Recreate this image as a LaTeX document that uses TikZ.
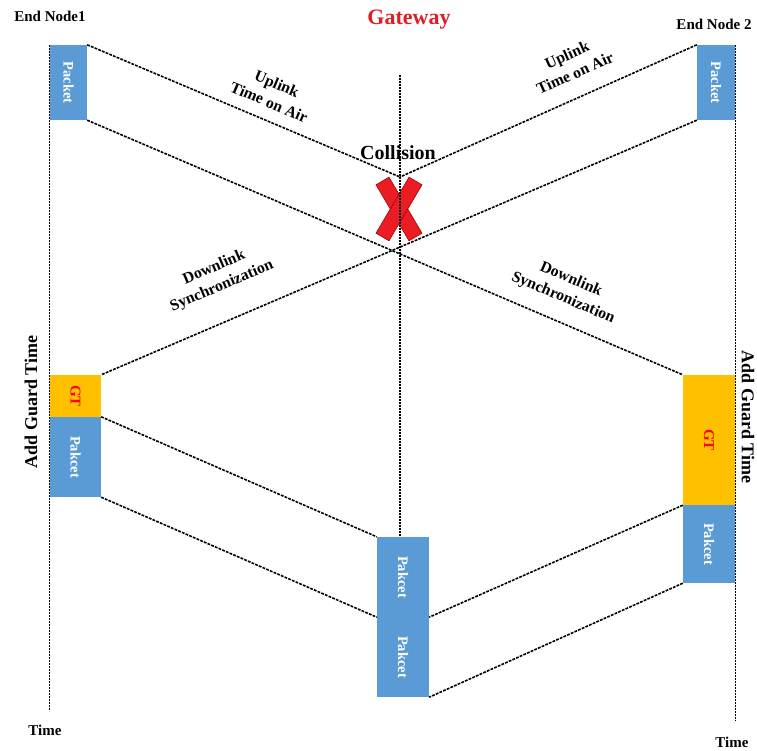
\documentclass[tikz,border=0pt]{standalone}
\usepackage{fontspec}
\setmainfont{Liberation Serif}
\usepackage{graphicx}
\definecolor{pktblue}{RGB}{91,155,213}
\definecolor{gtorange}{RGB}{255,192,0}
\definecolor{gwred}{RGB}{222,30,36}
\definecolor{xred}{RGB}{236,28,36}
\definecolor{xedge}{RGB}{160,0,0}
\begin{document}
\begin{tikzpicture}[x=1pt,y=-1pt,
  lbl/.style={font=\bfseries\fontsize{15}{18}\selectfont, inner sep=0pt, align=center},
  slant/.style={lbl, font=\bfseries\fontsize{15.8}{20}\selectfont},
  timeline/.style={line width=1.6pt, dash pattern=on 1.9pt off 1.1pt},
  link/.style={line width=1.6pt, dash pattern=on 2.8pt off 1.2pt},
  box/.style={inner sep=0pt, draw=none, font=\bfseries\fontsize{14.5}{14.5}\selectfont},
  pkt/.style={box, fill=pktblue, text=white},
  gtbox/.style={box, fill=gtorange, text=red, font=\bfseries\fontsize{15}{15}\selectfont},
  xarm/.style={fill=xred, draw=xedge, line width=0.6pt, line join=miter},
]
\useasboundingbox (0,0) rectangle (757,751);

% time axes and gateway axis
\coordinate (tL0) at (49.5,45);
\coordinate (tL1) at (49.5,711);
\coordinate (tR0) at (735.5,45);
\coordinate (tR1) at (735.5,721);
\coordinate (gtop) at (400,75);
\coordinate (meet) at (400,177);

% packets and guard times
\node[pkt, minimum width=37pt, minimum height=75pt] (pL) at (68.5,82.5) {\rotatebox{-90}{Packet}};
\node[pkt, minimum width=38pt, minimum height=75pt] (pR) at (716,82.5) {\rotatebox{-90}{Packet}};
\node[gtbox, minimum width=51pt, minimum height=42pt] (gtL) at (75.5,396) {\rotatebox{-90}{GT}};
\node[pkt, minimum width=51pt, minimum height=80pt] (pkL) at (75.5,457) {\rotatebox{-90}{Pakcet}};
\node[gtbox, minimum width=52pt, minimum height=130pt] (gtR) at (709,440) {\rotatebox{-90}{GT}};
\node[pkt, minimum width=52pt, minimum height=78pt] (pkR) at (709,544) {\rotatebox{-90}{Pakcet}};
\node[pkt, minimum width=52pt, minimum height=80pt] (c1) at (403,577) {\rotatebox{-90}{Pakcet}};
\node[pkt, minimum width=52pt, minimum height=80pt] (c2) at (403,657) {\rotatebox{-90}{Pakcet}};

% collision mark: two crossed bars
\filldraw[xarm] (376,184.8) -- (389,177.2) -- (422,233.2) -- (409,240.8) -- cycle;
\filldraw[xarm] (422,184.8) -- (409,177.2) -- (376,233.2) -- (389,240.8) -- cycle;

\draw[timeline] (tL0) -- (tL1);
\draw[timeline] (tR0) -- (tR1);
\draw[timeline] (gtop) -- (gtop |- c1.north);

% uplink and downlink paths
\draw[link] (pL.north east) -- (meet);
\draw[link] (pR.north west) -- (meet);
\draw[link] (pL.south east) -- (gtR.north west);
\draw[link] (pR.south west) -- (gtL.north east);
\draw[link] (pkL.north east) -- (c1.north west);
\draw[link] (pkL.south east) -- (c1.south west);
\draw[link] (gtR.south west) -- (c1.south east);
\draw[link] (pkR.south west) -- (c2.south east);

% labels
\node[lbl] (n1) at (50,16) {End Node1};
\node[lbl] (n2) at (714,24) {End Node 2};
\node[lbl, text=gwred, font=\bfseries\fontsize{22}{24}\selectfont] (gw) at (409,20) {Gateway};
\node[lbl, font=\bfseries\fontsize{20}{22}\selectfont] (col) at (398,153) {Collision};
\node[slant, rotate=-23] (upL) at (273,93) {Uplink\\Time on Air};
\node[slant, rotate=24] (upR) at (571,64) {Uplink\\Time on Air};
\node[slant, rotate=23] (dnL) at (218,277) {Downlink\\Synchronization};
\node[slant, rotate=-23] (dnR) at (567,289) {Downlink\\Synchronization};
\node[lbl, rotate=90, font=\bfseries\fontsize{18}{20}\selectfont] (agL) at (31,402) {Add Guard Time};
\node[lbl, rotate=-90, font=\bfseries\fontsize{18}{20}\selectfont] (agR) at (748,417) {Add Guard Time};
\node[lbl] (tmL) at (45,730) {Time};
\node[lbl] (tmR) at (732,742) {Time};
\end{tikzpicture}
\end{document}
